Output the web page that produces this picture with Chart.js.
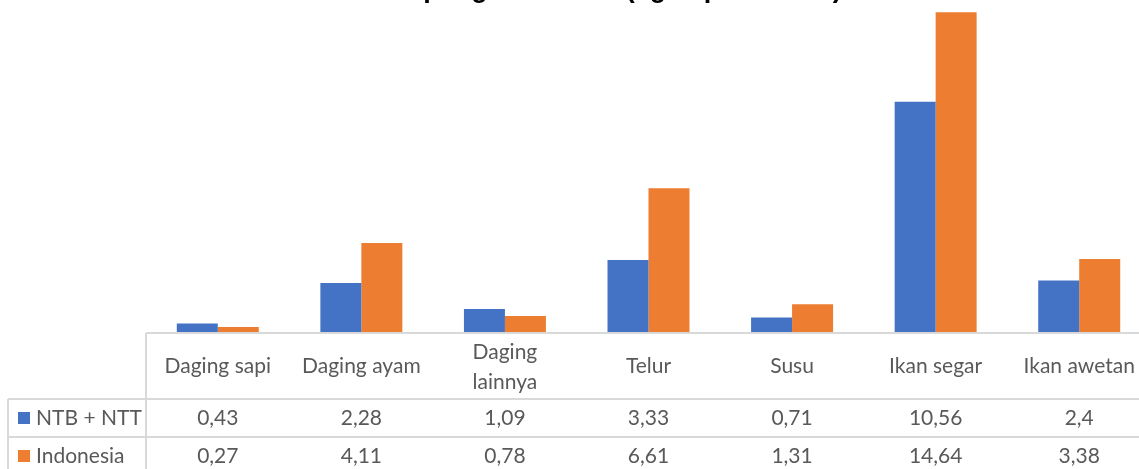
<!DOCTYPE html>
<html lang="id">
<head>
  <meta charset="UTF-8" />
  <title>Konsumsi pangan hewani</title>
  <script src="https://cdn.jsdelivr.net/npm/chart.js"></script>
  <style>
    html, body { margin: 0; padding: 0; background: #fff; }
    #wrap { position: relative; width: 1139px; height: 469px; overflow: hidden; }
    #chart { position: absolute; left: 0; top: -40px; }
  </style>
</head>
<body>
  <div id="wrap"><canvas id="chart" width="1155" height="520"></canvas></div>

  <script>
    const categories = ['Daging sapi', 'Daging ayam', ['Daging', 'lainnya'], 'Telur', 'Susu', 'Ikan segar', 'Ikan awetan'];
    const ntbNtt = [0.43, 2.28, 1.09, 3.33, 0.71, 10.56, 2.4];
    const indonesia = [0.27, 4.11, 0.78, 6.61, 1.31, 14.64, 3.38];
    const seriesNames = ['NTB + NTT', 'Indonesia'];
    const seriesColors = ['#4472C4', '#ED7D31'];
    const yMax = 15;

    const tableFont = '21px Lato';
    const textColor = '#595959';
    const lineColor = '#d9d9d9';

    function fmt(v) {
      return String(v).replace('.', ',');
    }

    // title is centred on the whole picture, not on the plot area
    const titleShift = {
      id: 'titleShift',
      afterLayout(chart) {
        const t = chart.titleBlock;
        if (t) { t.left -= 85; t.right -= 85; }
      }
    };

    // Excel-style data table under the plot, columns follow the x scale
    const dataTable = {
      id: 'dataTable',
      afterDraw(chart) {
        const ctx = chart.ctx;
        const xs = chart.scales.x;
        const top = chart.chartArea.bottom;
        const right = chart.width;
        const left = 8;
        const colLeft = chart.chartArea.left;
        const rows = [top + 66, top + 104, top + 142];

        ctx.save();
        ctx.strokeStyle = lineColor;
        ctx.lineWidth = 2;
        ctx.beginPath();
        ctx.moveTo(colLeft, top); ctx.lineTo(right, top);
        rows.forEach(y => { ctx.moveTo(left, y); ctx.lineTo(right, y); });
        ctx.moveTo(colLeft, top); ctx.lineTo(colLeft, chart.height);
        ctx.moveTo(left, rows[0]); ctx.lineTo(left, chart.height);
        ctx.stroke();

        ctx.font = tableFont;
        ctx.fillStyle = textColor;
        ctx.textAlign = 'center';
        ctx.textBaseline = 'middle';

        categories.forEach((c, i) => {
          const cx = xs.getPixelForValue(i);
          if (Array.isArray(c)) {
            ctx.fillText(c[0], cx, top + 19);
            ctx.fillText(c[1], cx, top + 49);
          } else {
            ctx.fillText(c, cx, top + 33);
          }
        });

        const series = [ntbNtt, indonesia];
        const rowMid = [top + 85, top + 123];
        series.forEach((vals, s) => {
          ctx.fillStyle = textColor;
          ctx.textAlign = 'center';
          vals.forEach((v, i) => {
            ctx.fillText(fmt(v), xs.getPixelForValue(i), rowMid[s]);
          });
          ctx.fillStyle = seriesColors[s];
          ctx.fillRect(18, rowMid[s] - 6, 12, 12);
          ctx.fillStyle = textColor;
          ctx.textAlign = 'left';
          ctx.fillText(seriesNames[s], 36, rowMid[s]);
        });
        ctx.restore();
      }
    };

    new Chart(document.getElementById('chart'), {
      type: 'bar',
      data: {
        labels: categories,
        datasets: [
          { label: seriesNames[0], data: ntbNtt, backgroundColor: seriesColors[0] },
          { label: seriesNames[1], data: indonesia, backgroundColor: seriesColors[1] }
        ]
      },
      options: {
        responsive: false,
        animation: false,
        layout: { padding: { left: 146, right: 4, top: 0, bottom: 147 } },
        datasets: { bar: { barPercentage: 1, categoryPercentage: 0.571 } },
        scales: {
          x: { display: false },
          y: { display: false, min: 0, max: yMax }
        },
        plugins: {
          legend: { display: false },
          tooltip: { enabled: false },
          title: {
            display: true,
            text: 'Konsumsi pangan hewani (kg/kapita/tahun)',
            color: '#000000',
            font: { family: 'Liberation Sans', size: 27, weight: 'bold' },
            padding: { top: 13, bottom: -1 }
          }
        }
      },
      plugins: [titleShift, dataTable]
    });
  </script>
</body>
</html>
